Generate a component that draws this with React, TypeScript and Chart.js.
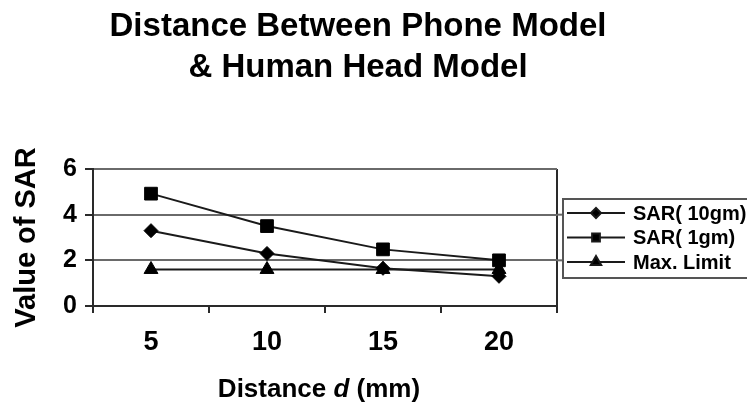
import React, { useEffect, useRef } from 'react';
import { Chart, registerables } from 'chart.js';
import { drawPoint } from 'chart.js/helpers';

Chart.register(...registerables);

const categories = ['5', '10', '15', '20'];
const sar10gm = [3.3, 2.3, 1.65, 1.3];
const sar1gm = [4.92, 3.5, 2.48, 2.0];
const maxLimit = [1.6, 1.6, 1.6, 1.6];
const seriesLabels = ['SAR( 10gm)', 'SAR( 1gm)', 'Max. Limit'];
const pointStyles = ['rectRot', 'rect', 'triangle'];
const pointSizes = [7, 9, 8];
const legendPointSizes = [5, 5.5, 6];
const titleLines = ['Distance Between Phone Model', '& Human Head Model'];
const yTitle = 'Value of SAR';
const xTitleParts = ['Distance ', 'd', ' (mm)'];
const yMin = 0;
const yMax = 6;
const yStep = 2;

const FONT = "'Liberation Sans', Arial, Helvetica, sans-serif";
const LINE = '#1a1a1a';
const GRID = '#6a6a6a';
const AXIS = '#2a2a2a';

const decorPlugin = {
  id: 'decor',
  afterDraw(chart: any) {
    const { ctx, chartArea } = chart;
    ctx.save();
    // Title
    ctx.fillStyle = '#000';
    ctx.textAlign = 'center';
    ctx.textBaseline = 'middle';
    ctx.font = `bold 33px ${FONT}`;
    titleLines.forEach((t, i) => ctx.fillText(t, 358, 27 + i * 41));

    // X axis title with italic d
    ctx.textBaseline = 'alphabetic';
    ctx.textAlign = 'left';
    const fonts = [`bold 26px ${FONT}`, `italic bold 26px ${FONT}`, `bold 26px ${FONT}`];
    let total = 0;
    const widths = xTitleParts.map((p, i) => {
      ctx.font = fonts[i];
      const w = ctx.measureText(p).width;
      total += w;
      return w;
    });
    let x = 319 - total / 2;
    xTitleParts.forEach((p, i) => {
      ctx.font = fonts[i];
      ctx.fillText(p, x, 397);
      x += widths[i];
    });

    // grid extension to legend
    const ys = chart.scales.y;
    ctx.strokeStyle = GRID;
    ctx.lineWidth = 2;
    [2, 4].forEach((v) => {
      const py = ys.getPixelForValue(v);
      ctx.beginPath();
      ctx.moveTo(chartArea.right, py);
      ctx.lineTo(563, py);
      ctx.stroke();
    });

    // Legend box
    ctx.fillStyle = '#fff';
    ctx.fillRect(563, 199, 200, 79);
    ctx.strokeStyle = '#555';
    ctx.lineWidth = 2;
    ctx.strokeRect(563, 199, 200, 79);
    ctx.font = `bold 20px ${FONT}`;
    ctx.textBaseline = 'middle';
    chart.data.datasets.forEach((ds: any, i: number) => {
      const cy = 213 + i * 24.5;
      ctx.strokeStyle = ds.borderColor;
      ctx.lineWidth = 2;
      ctx.beginPath();
      ctx.moveTo(567, cy);
      ctx.lineTo(625, cy);
      ctx.stroke();
      ctx.fillStyle = ds.pointBackgroundColor;
      drawPoint(ctx, { pointStyle: ds.pointStyle, radius: legendPointSizes[i], borderWidth: 1, rotation: 0 }, 596, cy);
      ctx.fillStyle = '#000';
      ctx.fillText(ds.label, 633, cy + 1);
    });
    ctx.restore();
  },
};

export default function App() {
  const ref = useRef<HTMLCanvasElement | null>(null);
  useEffect(() => {
    if (!ref.current) return;
    const data = [sar10gm, sar1gm, maxLimit];
    const chart = new Chart(ref.current, {
      type: 'line',
      data: {
        labels: categories,
        datasets: data.map((d, i) => ({
          label: seriesLabels[i],
          data: d,
          borderColor: LINE,
          borderWidth: 2,
          backgroundColor: '#000',
          pointBackgroundColor: '#000',
          pointBorderColor: '#000',
          pointBorderWidth: 1,
          pointStyle: pointStyles[i] as any,
          pointRadius: pointSizes[i],
          tension: 0,
          fill: false,
        })),
      },
      options: {
        responsive: false,
        animation: false,
        devicePixelRatio: 1,
        layout: { padding: { top: 169, left: 0, right: 190, bottom: 41 } },
        plugins: {
          legend: { display: false },
          title: { display: false },
          tooltip: { enabled: false },
        },
        scales: {
          x: {
            type: 'category',
            offset: true,
            afterFit: (s: any) => {
              s.height = 60;
            },
            grid: {
              offset: true,
              drawOnChartArea: true,
              drawTicks: true,
              tickLength: 7,
              lineWidth: 2,
              color: (c: any) => (c.index === undefined ? AXIS : 'rgba(0,0,0,0)'),
              tickColor: AXIS,
            },
            border: { display: true, color: AXIS, width: 2 },
            ticks: {
              color: '#000',
              padding: 13,
              font: { family: FONT, size: 27, weight: 'bold' },
            },
          },
          y: {
            min: yMin,
            max: yMax,
            afterFit: (s: any) => {
              s.width = 93;
            },
            grid: {
              color: GRID,
              lineWidth: 2,
              drawTicks: true,
              tickLength: 8,
              tickColor: AXIS,
            },
            border: { display: true, color: AXIS, width: 2 },
            ticks: {
              stepSize: yStep,
              color: '#000',
              padding: 8,
              font: { family: FONT, size: 25, weight: 'bold' },
            },
            title: {
              display: true,
              text: yTitle,
              color: '#000',
              padding: { top: 10, bottom: 0 },
              font: { family: FONT, size: 29, weight: 'bold' },
            },
          },
        },
      },
      plugins: [decorPlugin],
    });
    return () => chart.destroy();
  }, []);
  return (
    <div style={{ position: 'absolute', left: 0, top: 0, width: 747, height: 407, background: '#fff' }}>
      <canvas ref={ref} width={747} height={407} style={{ width: 747, height: 407, display: 'block' }} />
    </div>
  );
}
